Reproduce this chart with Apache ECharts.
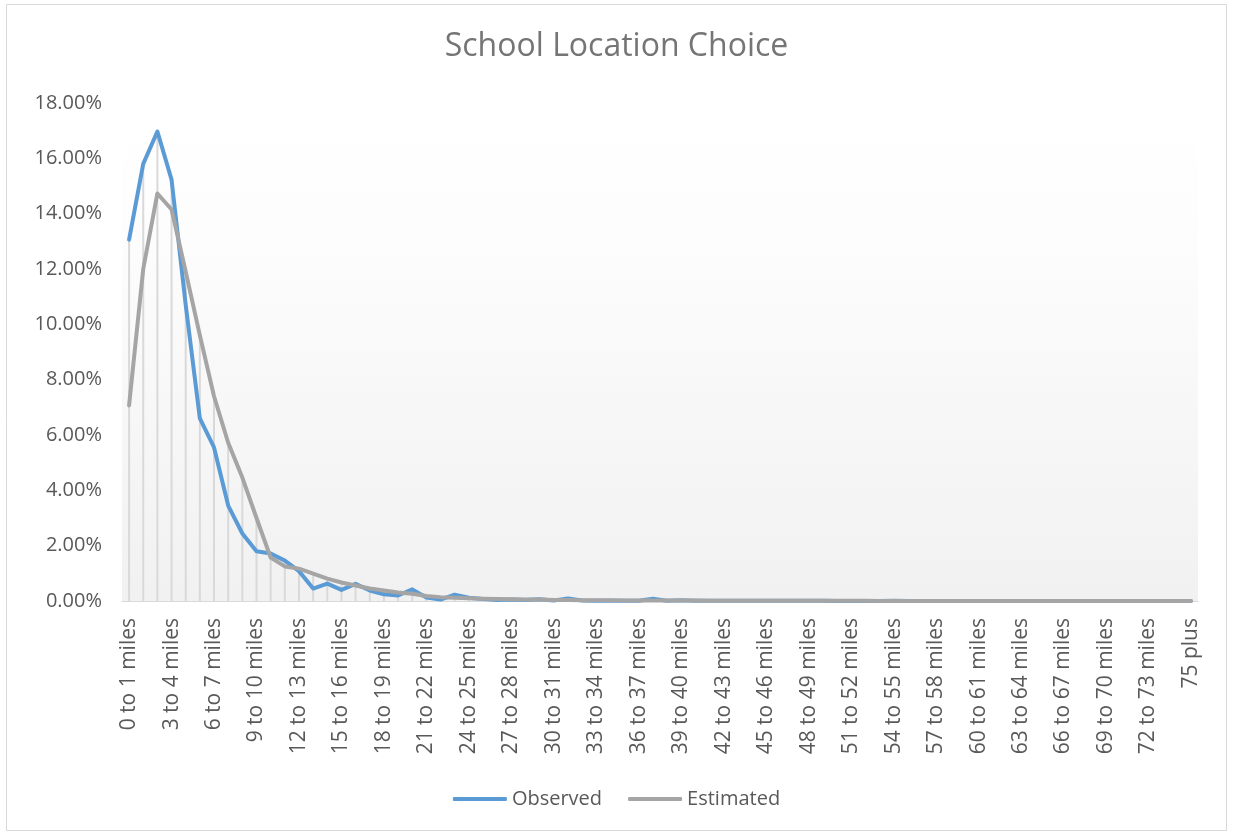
<!DOCTYPE html>
<html>
<head>
<meta charset="utf-8">
<script src="https://cdn.jsdelivr.net/npm/echarts@6/dist/echarts.min.js"></script>
<style>
  html, body { margin: 0; padding: 0; background: #fff; }
  #chart { width: 1233px; height: 833px; }
</style>
</head>
<body>
<div id="chart"></div>
<script>
// categories: 0 to 1 miles ... 74 to 75 miles, 75 plus
const categories = []
for (let i = 0; i < 75; i++) categories.push(i + ' to ' + (i + 1) + ' miles')
categories.push('75 plus')

// share of trips (%)
const observed = [
  13.06, 15.8, 16.97, 15.23, 10.7, 6.6, 5.55, 3.45, 2.44, 1.8,
  1.72, 1.46, 1.08, 0.45, 0.63, 0.4, 0.62, 0.38, 0.24, 0.2,
  0.42, 0.13, 0.05, 0.23, 0.12, 0.07, 0.04, 0.05, 0.04, 0.06,
  0.02, 0.09, 0.02, 0.01, 0.01, 0.01, 0.01, 0.08, 0.01, 0.03,
  0.01, 0.01, 0.01, 0.01, 0.01, 0.01, 0.01, 0.01, 0.01, 0.01,
  0.0, 0.0, 0.0, 0.0, 0.01, 0.0, 0.0, 0.0, 0.0, 0.0,
  0.0, 0.0, 0.0, 0.0, 0.0, 0.0, 0.0, 0.0, 0.0, 0.0,
  0.0, 0.0, 0.0, 0.0, 0.0, 0.0
]
const estimated = [
  7.07, 12.0, 14.73, 14.15, 11.9, 9.6, 7.4, 5.72, 4.46, 3.0,
  1.57, 1.25, 1.17, 0.99, 0.81, 0.67, 0.56, 0.45, 0.38, 0.31,
  0.26, 0.18, 0.14, 0.12, 0.1, 0.08, 0.07, 0.06, 0.05, 0.05,
  0.04, 0.04, 0.03, 0.03, 0.03, 0.02, 0.02, 0.02, 0.02, 0.02,
  0.02, 0.01, 0.01, 0.01, 0.01, 0.01, 0.01, 0.01, 0.01, 0.01,
  0.01, 0.01, 0.01, 0.0, 0.0, 0.0, 0.0, 0.0, 0.0, 0.0,
  0.0, 0.0, 0.0, 0.0, 0.0, 0.0, 0.0, 0.0, 0.0, 0.0,
  0.0, 0.0, 0.0, 0.0, 0.0, 0.0
]

// drop lines go from the higher of the two points down to the axis
const dropLines = observed.map((v, i) => Math.max(v, estimated[i]))

const textColor = '#595959'
const font = "'Open Sans', sans-serif"

const chart = echarts.init(document.getElementById('chart'))

chart.setOption({
  backgroundColor: '#fff',
  animation: false,
  title: {
    text: 'School Location Choice',
    left: 'center',
    top: 26,
    textStyle: {
      color: '#757575',
      fontFamily: font,
      fontWeight: 'normal',
      fontSize: 32,
    },
  },
  legend: {
    bottom: 19,
    left: 'center',
    itemWidth: 54,
    itemHeight: 4,
    itemGap: 26,
    icon: 'roundRect',
    data: ['Observed', 'Estimated'],
    textStyle: { color: textColor, fontFamily: font, fontSize: 20 },
  },
  graphic: [
    {
      type: 'rect',
      shape: { x: 6.5, y: 4.5, width: 1220, height: 826 },
      style: { fill: 'none', stroke: '#d9d9d9', lineWidth: 1 },
      silent: true,
    },
  ],
  grid: {
    left: 122,
    right: 35,
    top: 103,
    bottom: 232,
    show: true,
    borderWidth: 0,
    backgroundColor: new echarts.graphic.LinearGradient(0, 0, 0, 1, [
      { offset: 0, color: '#ffffff' },
      { offset: 0.25, color: '#fdfdfd' },
      { offset: 1, color: '#f1f1f1' },
    ]),
  },
  xAxis: {
    type: 'category',
    data: categories,
    boundaryGap: true,
    axisLine: { lineStyle: { color: '#d9d9d9', width: 1 } },
    axisTick: { show: false },
    axisLabel: {
      interval: 2,
      rotate: 90,
      color: textColor,
      fontFamily: font,
      fontSize: 21,
      margin: 17,
    },
  },
  yAxis: {
    type: 'value',
    min: 0,
    max: 18,
    interval: 2,
    axisLine: { show: false },
    axisTick: { show: false },
    splitLine: { show: false },
    axisLabel: {
      formatter: v => v.toFixed(2) + '%',
      color: textColor,
      fontFamily: font,
      fontSize: 20,
      margin: 20,
    },
  },
  series: [
    {
      name: 'drop',
      type: 'bar',
      data: dropLines,
      barWidth: 2,
      silent: true,
      itemStyle: { color: '#d9d9d9' },
      z: 1,
    },
    {
      name: 'Observed',
      type: 'line',
      data: observed,
      symbol: 'none',
      lineStyle: { color: '#5b9bd5', width: 4, cap: 'round', join: 'round' },
      itemStyle: { color: '#5b9bd5' },
      z: 3,
    },
    {
      name: 'Estimated',
      type: 'line',
      data: estimated,
      symbol: 'none',
      lineStyle: { color: '#a5a5a5', width: 4, cap: 'round', join: 'round' },
      itemStyle: { color: '#a5a5a5' },
      z: 4,
    },
  ],
})
</script>
</body>
</html>
